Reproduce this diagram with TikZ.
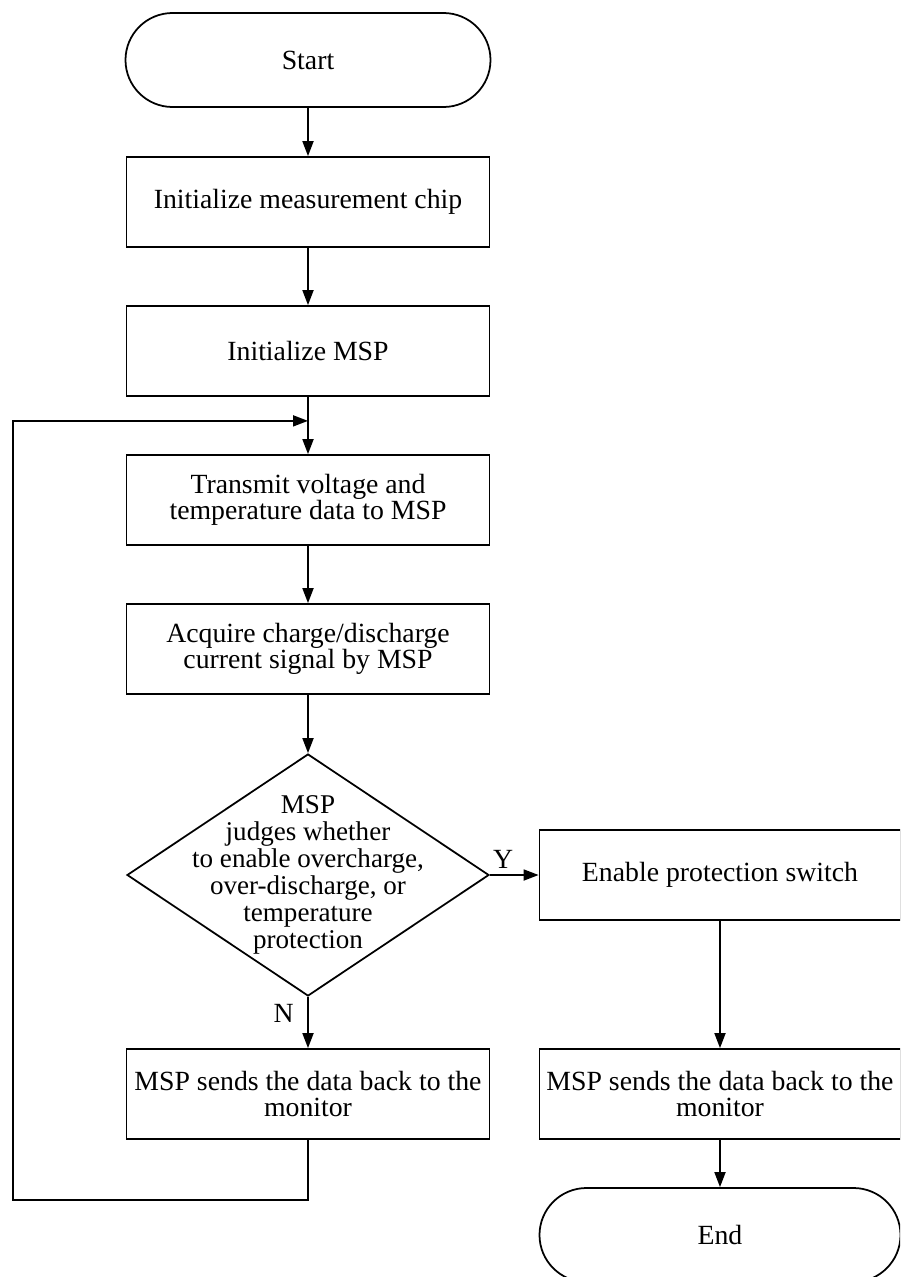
\documentclass[tikz,border=0pt]{standalone}
\usepackage{fontspec}
\setmainfont{Liberation Serif}
\usepackage{tikz}
\usetikzlibrary{shapes.geometric, arrows.meta, calc}
\newcommand{\diafont}{\fontsize{15.4}{15.4}\selectfont}
\tikzstyle{startstop} = [rectangle, rounded corners=0.94cm, minimum width=7.3cm, minimum height=1.88cm, text centered, draw=black, font=\fontsize{15.8}{14.5}\selectfont]
\tikzstyle{process} = [rectangle, minimum width=7.26cm, minimum height=1.8cm, align=center, draw=black, font=\fontsize{15.8}{14.5}\selectfont]
\tikzstyle{decision} = [diamond, minimum width=7.24cm, minimum height=4.84cm, inner sep=0pt, draw=black]
\tikzstyle{arrow} = [-{Triangle[length=0.3cm, width=0.22cm]}]

\begin{document}
\begin{tikzpicture}[line width=1pt, node distance=2.98cm]
	\path[use as bounding box, clip] (0,0) rectangle (18,-25.54);
	\node (start) [startstop] at (6.16,-1.2) {Start};
	\node (init1) [process, below of=start, yshift=0.14cm] {Initialize measurement chip};
	\node (init2) [process, below of=init1] {Initialize MSP};
	\node (trans) [process, below of=init2] {Transmit voltage and\\temperature data to MSP};
	\node (acq) [process, below of=trans] {Acquire charge/discharge\\current signal by MSP};
	\node (dec) [decision, below of=acq, yshift=-1.54cm, label={[align=center, font=\diafont]center:MSP\\judges whether\\to enable overcharge,\\over-discharge, or\\temperature\\protection}] {};
	\node (sendL) [process, below of=dec, yshift=-1.4cm] {MSP sends the data back to the\\monitor};
	\node (prot) [process, right of=dec, xshift=5.26cm, minimum width=7.22cm] {Enable protection switch};
	\node (sendR) [process, below of=prot, yshift=-1.4cm, minimum width=7.22cm] {MSP sends the data back to the\\monitor};
	\node (stop) [startstop, below of=sendR, yshift=0.16cm, minimum width=7.22cm] {End};
	\coordinate (join) at ($(init2.south)+(0,-0.48)$);
	\coordinate (loopx) at (0.26,0);
	
	\draw [arrow](start) -- (init1);
	\draw [arrow](init1) -- (init2);
	\draw (init2) -- (join);
	\draw [arrow](join) -- (trans);
	\draw [arrow](trans) -- (acq);
	\draw [arrow](acq) -- (dec);
	\draw [arrow](dec.east) -- node[above, pos=0.27, font=\fontsize{15.8}{14}\selectfont]{Y} (prot.west);
	\draw [arrow](dec.south) -- node[left, pos=0.33, xshift=-0.15cm, font=\fontsize{15.8}{14}\selectfont]{N} (sendL.north);
	\draw [arrow](prot) -- (sendR);
	\draw [arrow](sendR) -- (stop);
	\draw [arrow](sendL.south) -- ++(0,-1.2) -| (loopx |- join) -- (join);
\end{tikzpicture}
\end{document}
